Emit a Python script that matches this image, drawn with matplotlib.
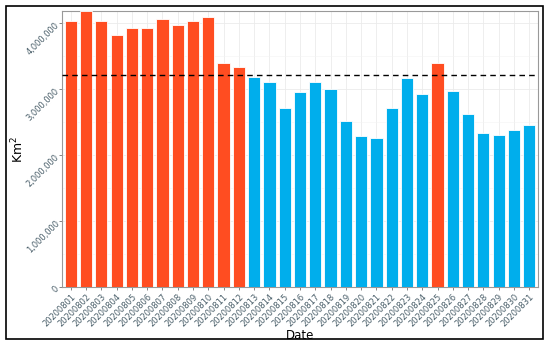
import matplotlib
matplotlib.use("Agg")
import matplotlib.pyplot as plt
from matplotlib.patches import Rectangle
from matplotlib.ticker import FuncFormatter, MultipleLocator

dates = [f"202008{d:02d}" for d in range(1, 32)]
area = [4035000, 4180000, 4035000, 3820000, 3930000, 3920000, 4065000, 3965000,
        4030000, 4086000, 3400000, 3330000, 3180000, 3110000, 2710000, 2960000,
        3110000, 3000000, 2510000, 2280000, 2255000, 2710000, 3170000, 2920000,
        3390000, 2970000, 2620000, 2330000, 2310000, 2380000, 2450000]
threshold = 3210000
above_color = "#FF4D21"
below_color = "#00AEEC"
colors = [above_color if v > threshold else below_color for v in area]

fig = plt.figure(figsize=(5.5, 3.46), dpi=100)
ax = fig.add_axes([0.1127, 0.1705, 0.8655, 0.7975])

x = list(range(len(dates)))
ax.bar(x, area, width=0.8, color=colors, edgecolor="white", linewidth=0.6, zorder=3)
ax.axhline(threshold, color="black", linestyle=(0, (4, 3)), linewidth=1.0, zorder=4)

ax.set_xlim(-0.575, len(dates) - 1 + 0.575)
ax.set_ylim(0, 4180000)
ax.yaxis.set_major_locator(MultipleLocator(1000000))
ax.yaxis.set_minor_locator(MultipleLocator(500000))
ax.yaxis.set_major_formatter(FuncFormatter(lambda v, p: f"{int(v):,}"))
ax.set_xticks(x)
ax.set_xticklabels(dates, rotation=45, ha="right", rotation_mode="anchor",
                   fontsize=6, color="#4A5F6A")
for lab in ax.get_yticklabels():
    lab.set_rotation(45)
    lab.set_ha("right")
    lab.set_rotation_mode("anchor")
    lab.set_fontsize(6)
    lab.set_color("#4A5F6A")
ax.tick_params(axis="both", which="major", length=2, width=0.5, color="#555555", pad=1.5)
ax.tick_params(axis="both", which="minor", length=0)

ax.grid(True, which="major", color="#EBEBEB", linewidth=0.6, zorder=0)
ax.grid(True, which="minor", axis="y", color="#F3F3F3", linewidth=0.4, zorder=0)
ax.set_axisbelow(True)
for s in ax.spines.values():
    s.set_color("#999999")
    s.set_linewidth(0.8)

ax.set_ylabel("Km$^2$", fontsize=9)
ax.yaxis.set_label_coords(-0.075, 0.5)
ax.set_xlabel("Date", fontsize=8.5, labelpad=1)

fig.patches.append(Rectangle((6 / 550, 1 - 339 / 346), 537 / 550, 333 / 346,
                             transform=fig.transFigure, fill=False,
                             edgecolor="black", linewidth=1.2))

fig.savefig("out.png", dpi=100)
